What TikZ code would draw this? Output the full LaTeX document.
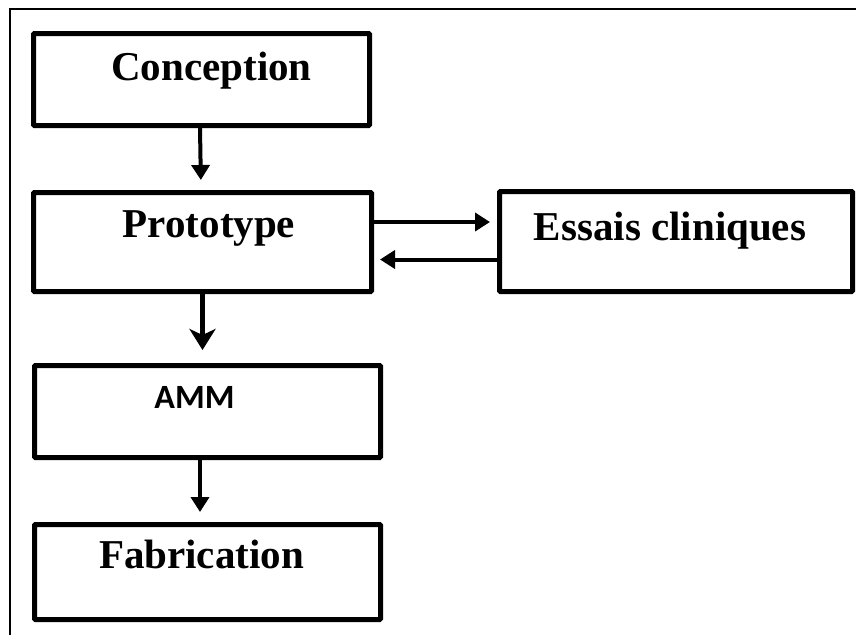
\documentclass[tikz,border=0pt]{standalone}
\usepackage{fontspec}
\setmainfont{Liberation Serif}
\newfontfamily\amfont{Carlito}
\usetikzlibrary{arrows.meta}
\tikzset{
  boxnode/.style={draw=black, line width=5pt, rectangle, rounded corners=1pt, inner sep=0pt, fill=white},
  lbl/.style={anchor=base, inner sep=0pt, font=\fontsize{41}{46}\selectfont\bfseries},
  lblsans/.style={anchor=base, inner sep=0pt, font=\fontsize{34}{40}\selectfont\amfont\bfseries},
  flow/.style={line width=4pt, -{Triangle[length=15pt,width=18pt]}},
  bigflow/.style={line width=4.5pt, -{Stealth[length=21pt,width=26pt,inset=6pt]}},
}
\begin{document}
\begin{tikzpicture}[x=1pt, y=-1pt]
\useasboundingbox (0,0) rectangle (856,635);
\fill[white] (0,0) rectangle (856,635);
\draw[line width=2.5pt] (10,635) -- (10,9) -- (856,9);

\node[boxnode, minimum width=336pt, minimum height=92pt] (cbox) at (201.5,79.5) {};
\node[boxnode, minimum width=338pt, minimum height=99pt] (pbox) at (202.5,242) {};
\node[boxnode, minimum width=353pt, minimum height=100pt] (ebox) at (676,241.5) {};
\node[boxnode, minimum width=346pt, minimum height=92pt] (abox) at (207.5,411.5) {};
\node[boxnode, minimum width=346pt, minimum height=95pt] (fbox) at (207.5,572) {};

\node[lbl] (ctext) at (211.5,80) {Conception};
\node[lbl] (ptext) at (209,237) {Prototype};
\node[lbl] (etext) at (670,240) {Essais cliniques};
\node[lblsans] (atext) at (194.5,408) {AMM};
\node[lbl] (ftext) at (201.5,568) {Fabrication};

\draw[flow, shorten >=10pt] ([xshift=-1.5pt]cbox.south) -- ([xshift=-1.5pt]pbox.north);
\draw[bigflow, shorten >=13pt] (pbox.south) -- (pbox.south |- abox.north);
\draw[flow, shorten >=10pt] ([xshift=-7.5pt]abox.south) -- ([xshift=-7.5pt]fbox.north);

\coordinate (pe1) at ([yshift=20pt]pbox.east);
\coordinate (ew1) at ([yshift=-18pt]ebox.west);
\draw[flow, shorten >=7pt] (pe1) -- (pe1 -| ebox.west);
\draw[flow, shorten >=6pt] (ew1) -- (ew1 -| pbox.east);
\end{tikzpicture}
\end{document}
